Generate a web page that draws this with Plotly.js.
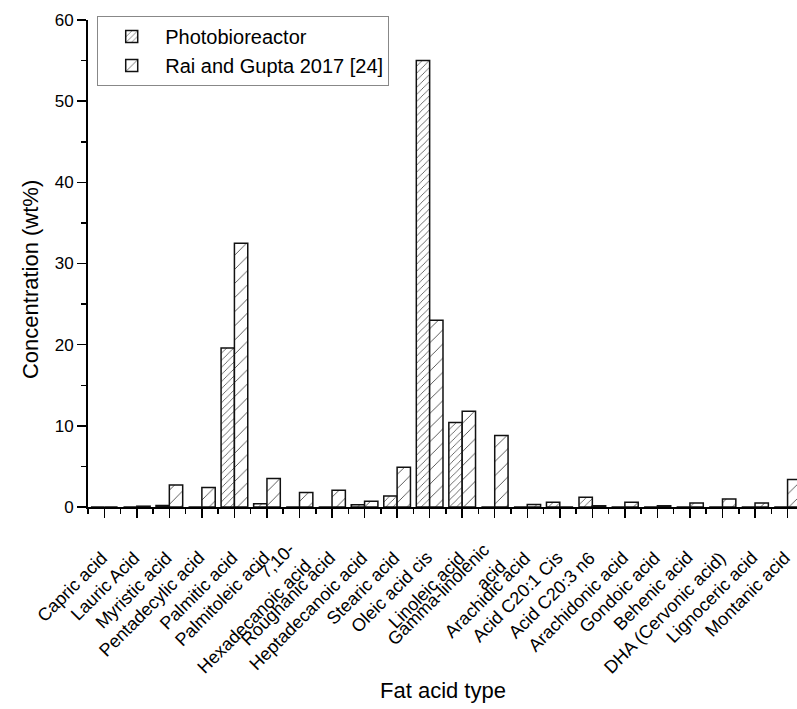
<!DOCTYPE html>
<html>
<head>
<meta charset="utf-8">
<script src="https://cdn.plot.ly/plotly-3.0.1.min.js"></script>
<style>html,body{margin:0;padding:0;background:#fff;}#chart{width:797px;height:709px;}</style>
</head>
<body>
<div id="chart"></div>
<script>
const categories = ["Capric acid","Lauric Acid","Myristic acid","Pentadecylic acid","Palmitic acid","Palmitoleic acid","7,10-<br>Hexadecanoic acid","Roughanic acid","Heptadecanoic acid","Stearic acid","Oleic acid cis","Linoleic acid","Gamma-linolenic<br>acid","Arachidic acid","Acid C20:1 Cis","Acid C20:3 n6","Arachidonic acid","Gondoic acid","Behenic acid","DHA (Cervonic acid)","Lignoceric acid","Montanic acid"];
const photobioreactor = [0, 0, 0.2, 0, 19.6, 0.4, 0, 0, 0.28, 1.35, 55.0, 10.4, 0, 0, 0.6, 1.2, 0, 0, 0, 0, 0, 0];
const raiGupta = [0, 0.1, 2.7, 2.4, 32.5, 3.5, 1.8, 2.05, 0.7, 4.9, 23.0, 11.8, 8.8, 0.3, 0, 0.15, 0.6, 0.15, 0.5, 1.0, 0.5, 3.4];
const seriesNames = ["Photobioreactor", "Rai and Gupta 2017 [24]"];
const yTicks = [0, 10, 20, 30, 40, 50, 60];
const xTitle = "Fat acid type";
const yTitle = "Concentration (wt%)";

const xIdx = categories.map((c, i) => i);
const FONT = "Liberation Sans, Arial, sans-serif";
const LABEL_SIZE = 18;

const traces = [
  {
    type: "bar", name: seriesNames[0], x: xIdx, y: photobioreactor,
    marker: { color: "white", line: { color: "#111", width: 1.5 },
      pattern: { shape: "/", size: 5, solidity: 0.14, fgcolor: "#333", bgcolor: "white" } }
  },
  {
    type: "bar", name: seriesNames[1], x: xIdx, y: raiGupta,
    marker: { color: "white", line: { color: "#111", width: 1.5 },
      pattern: { shape: "/", size: 10, solidity: 0.08, fgcolor: "#333", bgcolor: "white" } }
  }
];

// rotated category labels as annotations anchored under each category position
const labelAnnotations = categories.map((c, i) => {
  const n = c.split("<br>").length;
  const H = 0.6 + 23.4 * n;
  return {
    text: c, x: i, xref: "x", y: 0, yref: "paper",
    xanchor: "right", yanchor: "top", align: "right",
    textangle: -45, showarrow: false,
    xshift: 1 + 0.354 * H, yshift: -(46.5 - 0.354 * H),
    font: { family: FONT, size: LABEL_SIZE, color: "#000" }
  };
});

const titleAnnotations = [
  { text: xTitle, x: 0.5, xref: "paper", y: 0, yref: "paper", xanchor: "center", yanchor: "middle",
    yshift: -183, showarrow: false, font: { family: FONT, size: 22, color: "#000" } },
  { text: yTitle, x: 0, xref: "paper", y: 0.466, yref: "paper", xanchor: "center", yanchor: "middle",
    xshift: -58, textangle: -90, showarrow: false, font: { family: FONT, size: 22, color: "#000" } }
];

const layout = {
  width: 797, height: 709,
  margin: { l: 88, r: 0, t: 20, b: 202 },
  paper_bgcolor: "white", plot_bgcolor: "white",
  font: { family: FONT, size: 16, color: "#000" },
  barmode: "group", bargap: 0.18, bargroupgap: 0,
  showlegend: true,
  legend: {
    x: 0.013, y: 1.008, xanchor: "left", yanchor: "top",
    bgcolor: "white", bordercolor: "#888", borderwidth: 1,
    font: { family: FONT, size: 20, color: "#000" },
    itemwidth: 57, traceorder: "normal"
  },
  xaxis: {
    range: [-0.5, 21.29], type: "linear",
    tickmode: "array", tickvals: xIdx, showticklabels: false,
    ticks: "outside", ticklen: 9, tickwidth: 1.5, tickcolor: "#000",
    minor: { tickmode: "linear", tick0: 0.5, dtick: 1, ticks: "outside", ticklen: 5, tickwidth: 1.5, tickcolor: "#000" },
    showline: true, linecolor: "#000", linewidth: 2,
    showgrid: false, zeroline: false, automargin: false
  },
  yaxis: {
    range: [0, 60], tickmode: "array", tickvals: yTicks,
    tickfont: { family: FONT, size: 17, color: "#000" },
    ticks: "outside", ticklen: 9, tickwidth: 1.5, tickcolor: "#000",
    minor: { tickmode: "linear", tick0: 5, dtick: 10, ticks: "outside", ticklen: 5, tickwidth: 1.5, tickcolor: "#000" },
    showline: true, linecolor: "#000", linewidth: 2,
    showgrid: false, zeroline: false, automargin: false
  },
  annotations: labelAnnotations.concat(titleAnnotations)
};

Plotly.newPlot("chart", traces, layout, { displayModeBar: false, staticPlot: true });
</script>
</body>
</html>
